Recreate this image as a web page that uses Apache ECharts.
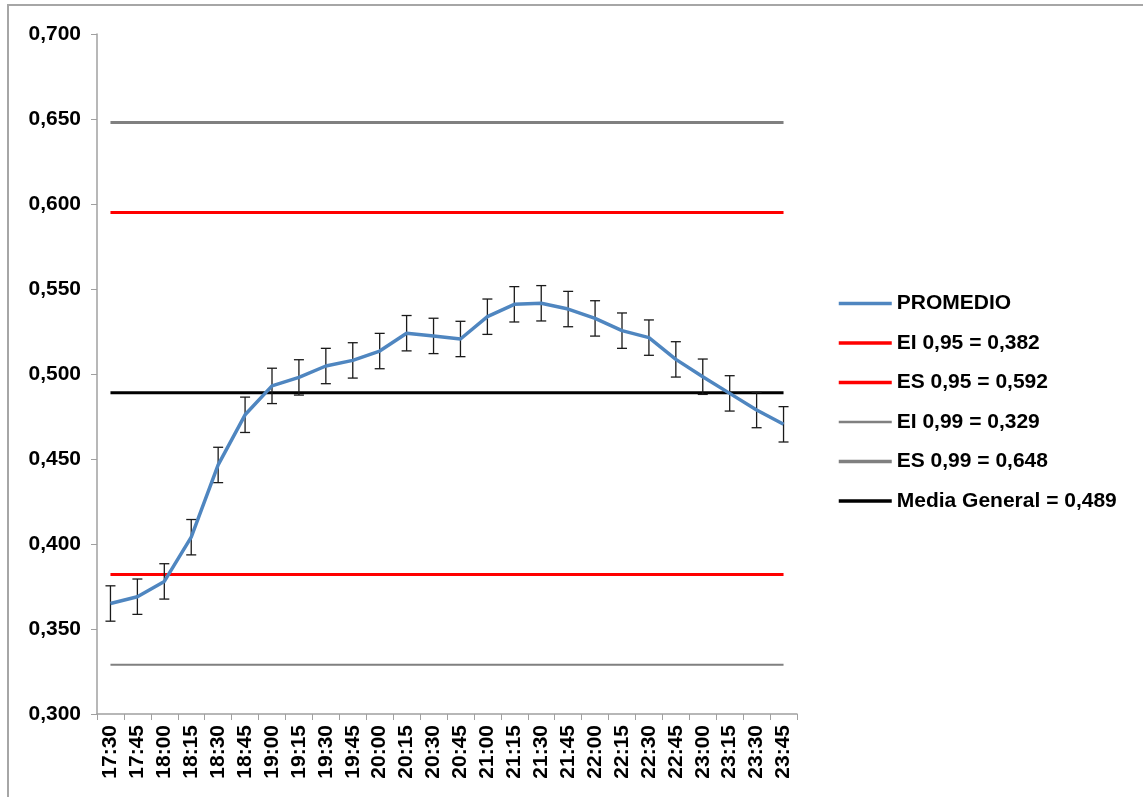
<!DOCTYPE html>
<html>
<head>
<meta charset="utf-8">
<script src="https://cdn.jsdelivr.net/npm/echarts@6/dist/echarts.min.js"></script>
<style>
html,body{margin:0;padding:0;background:#fff;}
#chart{width:1143px;height:797px;}
</style>
</head>
<body>
<div id="chart"></div>
<script>
const categories = ['17:30','17:45','18:00','18:15','18:30','18:45','19:00','19:15','19:30','19:45','20:00','20:15','20:30','20:45','21:00','21:15','21:30','21:45','22:00','22:15','22:30','22:45','23:00','23:15','23:30','23:45'];
const promedio = [0.365,0.369,0.378,0.404,0.4465,0.476,0.493,0.498,0.5047,0.508,0.5135,0.524,0.5224,0.5206,0.5337,0.541,0.5416,0.5382,0.5327,0.5255,0.5214,0.5086,0.4984,0.4886,0.4788,0.4704];
const errorHalf = [0.0104,0.0104,0.0104,0.0104,0.0104,0.0104,0.0104,0.0104,0.0104,0.0104,0.0104,0.0104,0.0104,0.0104,0.0104,0.0104,0.0104,0.0104,0.0104,0.0104,0.0104,0.0104,0.0104,0.0104,0.0104,0.0104];
const refNames = ['EI 0,95 = 0,382','ES 0,95 = 0,592','EI 0,99 = 0,329','ES 0,99 = 0,648','Media General = 0,489'];
const refValues = [0.382, 0.595, 0.329, 0.648, 0.489];
const refColors = ['#ff0000','#ff0000','#808080','#808080','#000000'];
const refWidths = [3, 3, 2, 3, 3];
const yTicks = {min: 0.3, max: 0.7, interval: 0.05};

const FONT = '"Liberation Sans", Arial, sans-serif';
const BLUE = '#4f86c0';
const chart = echarts.init(document.getElementById('chart'), null, {renderer: 'canvas'});

const refSeries = refNames.map((n, i) => ({
  name: n,
  type: 'line',
  data: categories.map(() => refValues[i]),
  symbol: 'none',
  lineStyle: {color: refColors[i], width: refWidths[i]},
  itemStyle: {color: refColors[i]},
  z: 2,
  silent: true
}));

const legendData = [{name: 'PROMEDIO', itemStyle: {opacity: 0}, lineStyle: {color: BLUE, width: 3.5}}]
  .concat(refNames.map((n, i) => ({name: n, itemStyle: {opacity: 0}, lineStyle: {color: refColors[i], width: refWidths[i] + 0.5}})));

const errData = promedio.map((v, i) => [i, v - errorHalf[i], v + errorHalf[i]]);

const option = {
  animation: false,
  backgroundColor: '#ffffff',
  graphic: [{
    type: 'rect',
    shape: {x: 8, y: 5, width: 1300, height: 900},
    style: {fill: 'none', stroke: '#a6a6a6', lineWidth: 2},
    silent: true, z: -10
  }],
  grid: {left: 97, right: 346, top: 34, bottom: 83},
  legend: {
    orient: 'vertical',
    left: 837,
    top: 293,
    padding: 0,
    itemWidth: 53,
    itemHeight: 20,
    itemGap: 18.5,
    itemStyle: {opacity: 0},
    data: legendData,
    textStyle: {fontFamily: FONT, fontWeight: 'bold', fontSize: 21, color: '#000'}
  },
  xAxis: {
    type: 'category',
    data: categories,
    boundaryGap: true,
    axisLine: {lineStyle: {color: '#a0a0a0', width: 1.5}},
    axisTick: {show: true, interval: 0, length: 6, lineStyle: {color: '#a0a0a0'}},
    axisLabel: {interval: 0, rotate: 90, margin: 11, fontFamily: FONT, fontWeight: 'bold', fontSize: 21, color: '#000'},
    splitLine: {show: false}
  },
  yAxis: {
    type: 'value',
    min: yTicks.min, max: yTicks.max, interval: yTicks.interval,
    axisLine: {show: true, lineStyle: {color: '#a0a0a0', width: 1.5}},
    axisTick: {show: true, length: 6, lineStyle: {color: '#a0a0a0'}},
    axisLabel: {
      margin: 16, fontFamily: FONT, fontWeight: 'bold', fontSize: 21, color: '#000',
      formatter: v => v.toFixed(3).replace('.', ',')
    },
    splitLine: {show: false}
  },
  series: refSeries.concat([
    {
      name: 'errbars',
      type: 'custom',
      data: errData,
      encode: {x: 0, y: [1, 2]},
      z: 3,
      silent: true,
      renderItem: function (params, api) {
        const idx = api.value(0);
        const lo = api.coord([idx, api.value(1)]);
        const hi = api.coord([idx, api.value(2)]);
        const w = 5;
        const style = {stroke: '#1a1a1a', lineWidth: 1.3};
        return {
          type: 'group',
          children: [
            {type: 'line', shape: {x1: lo[0], y1: lo[1], x2: hi[0], y2: hi[1]}, style: style},
            {type: 'line', shape: {x1: lo[0] - w, y1: lo[1], x2: lo[0] + w, y2: lo[1]}, style: style},
            {type: 'line', shape: {x1: hi[0] - w, y1: hi[1], x2: hi[0] + w, y2: hi[1]}, style: style}
          ]
        };
      }
    },
    {
      name: 'PROMEDIO',
      type: 'line',
      data: promedio,
      symbol: 'none',
      lineStyle: {color: BLUE, width: 3.5},
      itemStyle: {color: BLUE},
      z: 4,
      silent: true
    }
  ])
};
chart.setOption(option);
</script>
</body>
</html>
